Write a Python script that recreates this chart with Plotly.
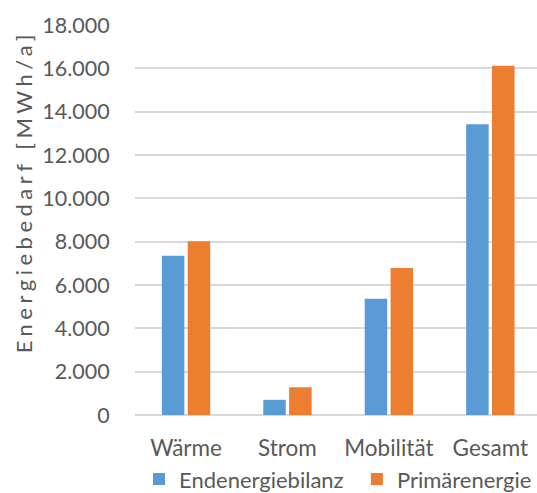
import plotly.graph_objects as go

# Energy demand per sector, MWh per year
categories = ["Wärme", "Strom", "Mobilität", "Gesamt"]
endenergie = [7350, 700, 5360, 13420]
primaerenergie = [8020, 1280, 6790, 16120]
y_ticks = [0, 2000, 4000, 6000, 8000, 10000, 12000, 14000, 16000, 18000]
y_title = "Energiebedarf [MWh/a]"

FONT = "Lato"
TEXT = "#595959"
GRID = "#D9D9D9"

fig = go.Figure()
fig.add_trace(go.Bar(name="Endenergiebilanz", x=categories, y=endenergie,
                     marker=dict(color="#5B9BD5", line=dict(width=0)),
                     legend="legend"))
fig.add_trace(go.Bar(name="Primärenergie", x=categories, y=primaerenergie,
                     marker=dict(color="#ED7D31", line=dict(width=0)),
                     legend="legend2"))

legend_style = dict(orientation="h", y=-0.111, xanchor="left", yanchor="top",
                    font=dict(size=22, color=TEXT), itemwidth=30,
                    bgcolor="rgba(0,0,0,0)")

fig.update_layout(
    width=537, height=493,
    margin=dict(l=135, r=0, t=25, b=78, autoexpand=False),
    paper_bgcolor="white", plot_bgcolor="white",
    separators=",.",
    barmode="group", bargap=0.49, bargroupgap=0.13,
    font=dict(family=FONT, color=TEXT, size=22),
    showlegend=True,
    legend=dict(x=0.01, **legend_style),
    legend2=dict(x=0.552, **legend_style),
    xaxis=dict(range=[-0.503, 3.46], showgrid=False, showline=False, zeroline=False,
               ticks="outside", ticklen=13, tickcolor="rgba(0,0,0,0)",
               tickfont=dict(size=22.5, color=TEXT)),
    yaxis=dict(range=[0, 18000], tickvals=y_ticks, tickformat=",d",
               showgrid=True, gridcolor=GRID, gridwidth=1.7,
               zeroline=True, zerolinecolor=GRID, zerolinewidth=1.7,
               showline=False,
               ticks="outside", ticklen=20, tickcolor="rgba(0,0,0,0)",
               tickfont=dict(size=21.5, color=TEXT)),
    annotations=[dict(
        text=f'<span style="letter-spacing:4.5px">{y_title}</span>',
        xref="paper", yref="paper", x=-0.2786, y=0.571,
        xanchor="center", yanchor="middle", textangle=-90, showarrow=False,
        font=dict(size=22, color=TEXT),
    )],
)

fig.write_html("out.html")
